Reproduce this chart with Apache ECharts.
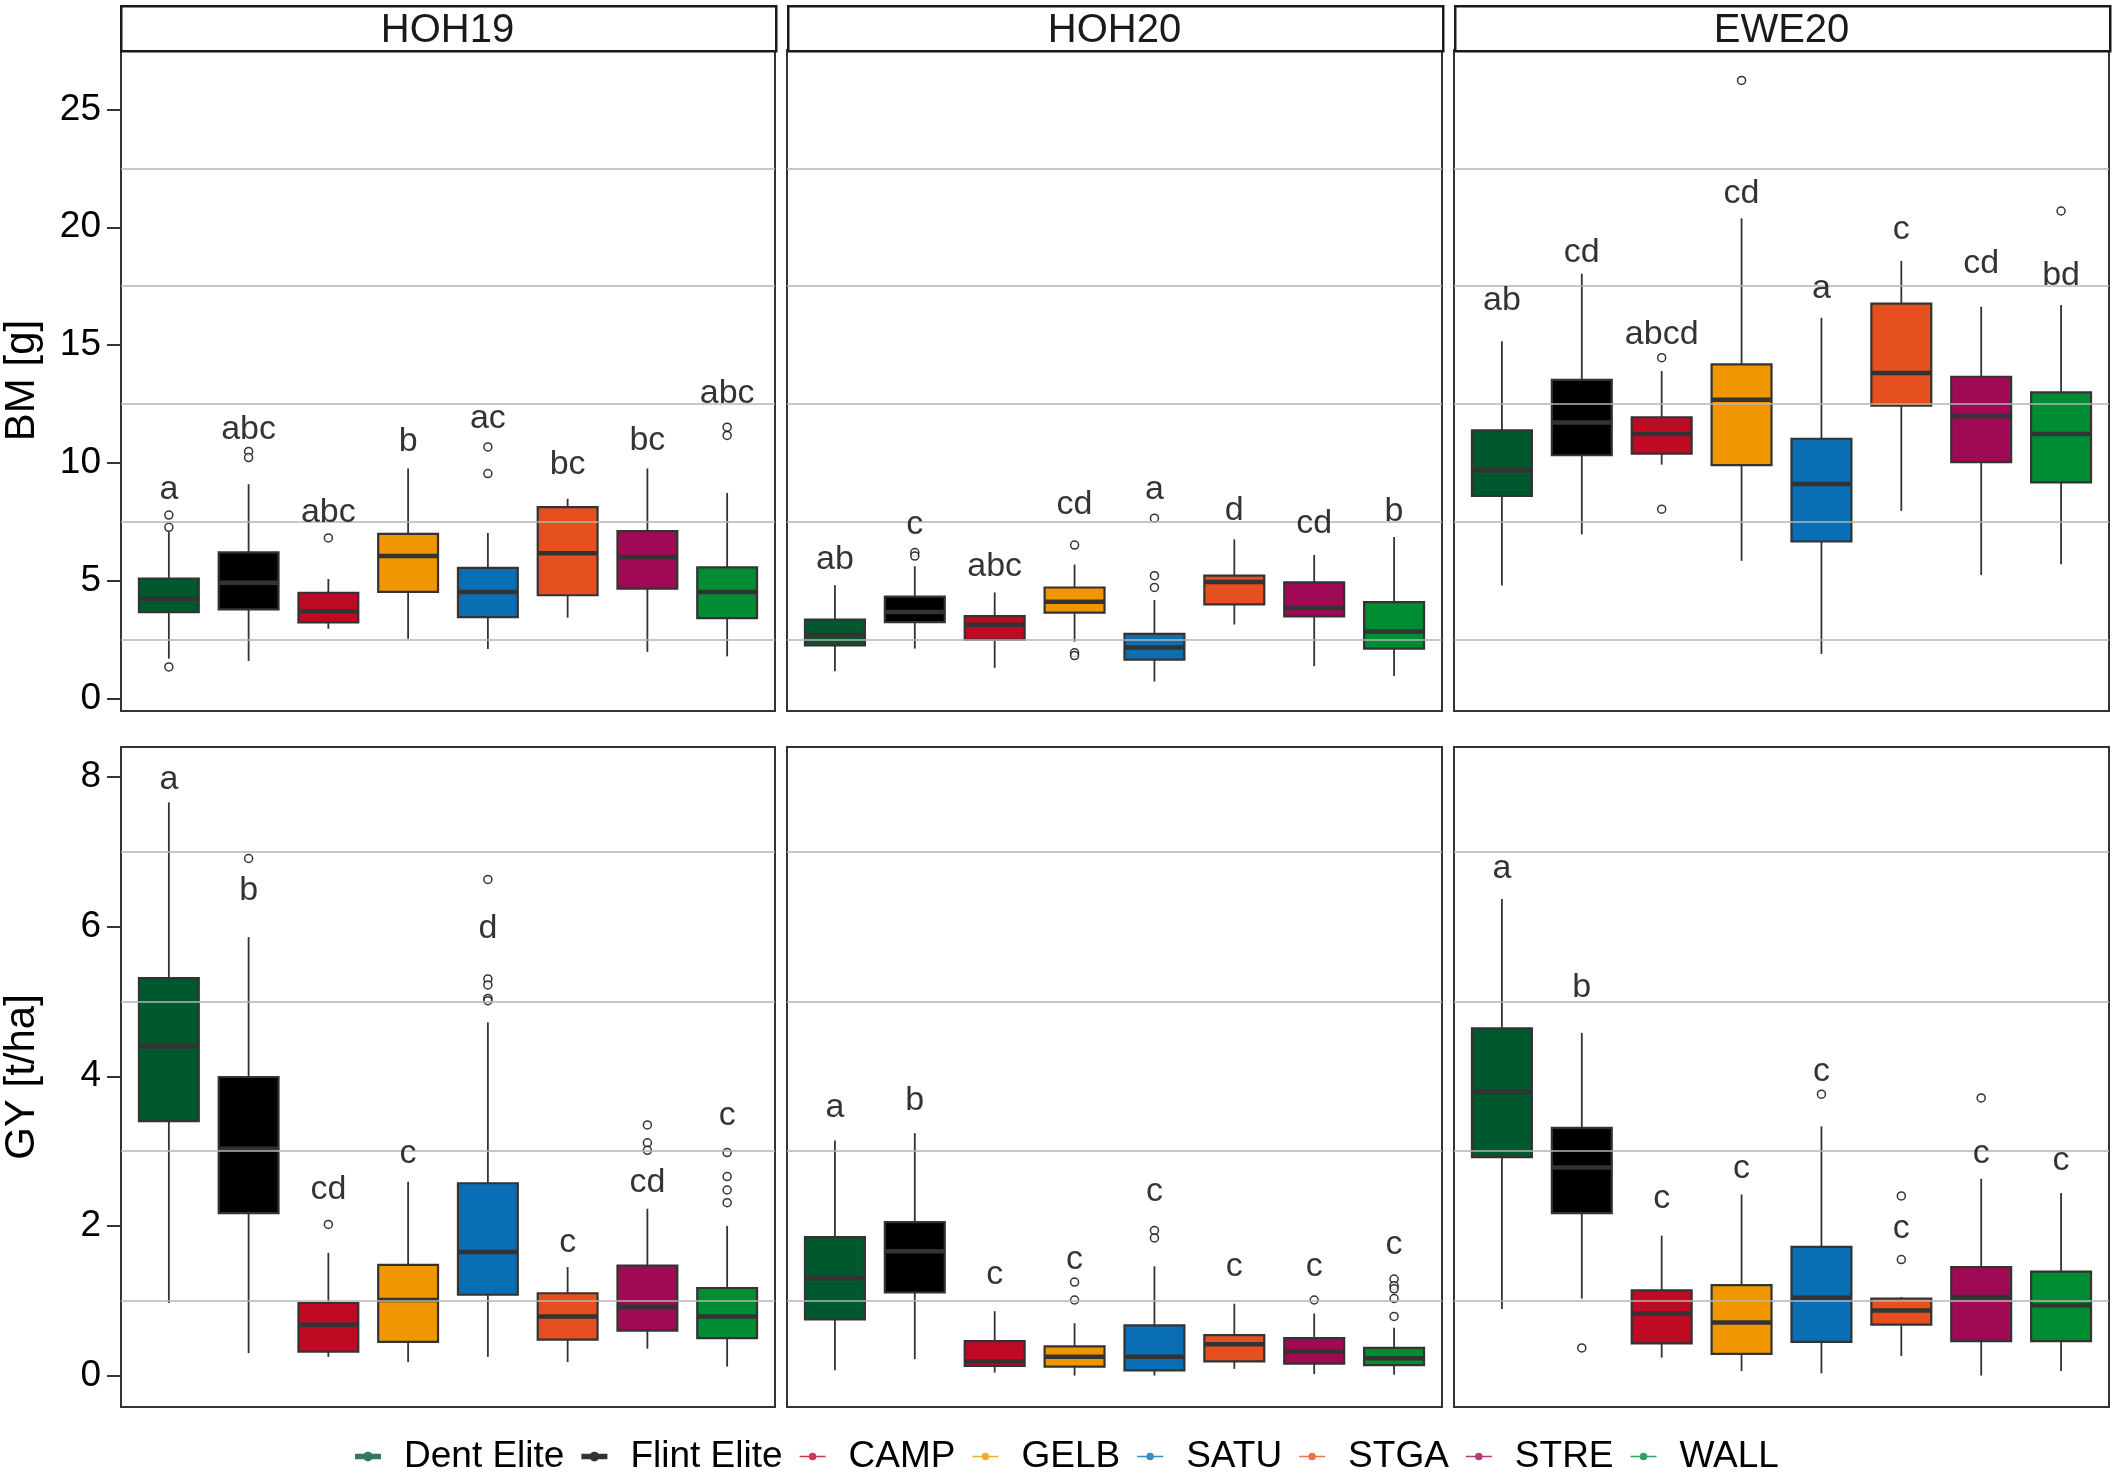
<!DOCTYPE html>
<html><head><meta charset="utf-8">
<script src="https://cdn.jsdelivr.net/npm/echarts@6/dist/echarts.min.js"></script>
<style>html,body{margin:0;padding:0;background:#fff}#c{width:2115px;height:1472px}</style>
</head><body><div id="c"></div><script>
// ---------- data ----------
const varieties = ['Dent Elite','Flint Elite','CAMP','GELB','SATU','STGA','STRE','WALL'];
const sites = ['HOH19','HOH20','EWE20'];
const bmTicks = [0,5,10,15,20,25];
const gyTicks = [0,2,4,6,8];
const bmGrid = [2.5,7.5,12.5,17.5,22.5];
const gyGrid = [1,3,5,7];

// box stats: [lower whisker, Q1, median, Q3, upper whisker]
const bmHOH19 = [[1.7,3.67,4.24,5.1,7.07],[1.6,3.79,4.92,6.21,9.1],[2.97,3.24,3.71,4.49,5.08],[2.54,4.53,6.05,6.99,9.77],[2.11,3.46,4.53,5.55,7.03],[3.44,4.39,6.17,8.13,8.48],[1.99,4.67,6.0,7.11,9.77],[1.8,3.42,4.53,5.57,8.73]];
const bmHOH19Out = [[0,7.79],[0,7.27],[0,1.35],[1,10.49],[1,10.23],[2,6.82],[4,10.68],[4,9.55],[7,11.52],[7,11.17]];
const bmHOH19Let = ['a','abc','abc','b','ac','bc','bc','abc'];
const bmHOH19LetY = [8.87,11.4,7.91,10.92,11.89,9.94,10.94,12.93];

const bmHOH20 = [[1.17,2.26,2.7,3.36,4.81],[2.13,3.25,3.68,4.33,5.62],[1.31,2.51,3.14,3.51,4.51],[2.42,3.65,4.11,4.72,5.69],[0.73,1.66,2.17,2.75,4.19],[3.15,4.0,4.95,5.22,6.76],[1.38,3.49,3.85,4.94,6.1],[0.96,2.13,2.85,4.1,6.86]];
const bmHOH20Out = [[1,6.2],[1,6.05],[3,6.52],[3,1.95],[3,1.83],[4,7.66],[4,5.22],[4,4.72]];
const bmHOH20Let = ['ab','c','abc','cd','a','d','cd','b'];
const bmHOH20LetY = [5.91,7.39,5.59,8.25,8.89,7.97,7.43,7.92];

const bmEWE20 = [[4.8,8.6,9.69,11.39,15.16],[6.97,10.33,11.72,13.53,18.03],[9.93,10.4,11.23,11.94,13.9],[5.85,9.91,12.68,14.18,20.38],[1.9,6.67,9.11,11.03,16.16],[7.97,12.43,13.82,16.76,18.57],[5.25,10.04,11.99,13.66,16.63],[5.7,9.18,11.23,13.0,16.7]];
const bmEWE20Out = [[2,14.47],[2,8.04],[3,26.23],[7,20.69]];
const bmEWE20Let = ['ab','cd','abcd','cd','a','c','cd','bd'];
const bmEWE20LetY = [16.9,18.93,15.43,21.43,17.39,19.89,18.44,17.93];

const gyHOH19 = [[0.97,3.4,4.4,5.31,7.66],[0.3,2.17,3.03,3.99,5.86],[0.25,0.32,0.68,0.97,1.64],[0.18,0.45,1.01,1.48,2.59],[0.25,1.08,1.65,2.57,4.72],[0.18,0.48,0.79,1.1,1.45],[0.36,0.6,0.92,1.47,2.23],[0.12,0.5,0.79,1.17,2.0]];
const gyHOH19Out = [[1,6.91],[2,2.02],[4,6.63],[4,5.3],[4,5.22],[4,5.04],[4,5.01],[6,3.35],[6,3.11],[6,3.01],[7,2.98],[7,2.66],[7,2.48],[7,2.31]];
const gyHOH19Let = ['a','b','cd','c','d','c','cd','c'];
const gyHOH19LetY = [7.96,6.48,2.48,2.96,5.97,1.78,2.58,3.47];

const gyHOH20 = [[0.07,0.75,1.3,1.85,3.14],[0.22,1.11,1.66,2.05,3.24],[0.04,0.13,0.19,0.46,0.86],[0.0,0.12,0.25,0.39,0.7],[0.0,0.07,0.25,0.67,1.46],[0.09,0.19,0.42,0.54,0.96],[0.02,0.16,0.32,0.5,0.83],[0.01,0.14,0.23,0.37,0.64]];
const gyHOH20Out = [[3,1.25],[3,1.01],[4,1.94],[4,1.84],[6,1.01],[7,1.29],[7,1.2],[7,1.16],[7,1.03],[7,0.79]];
const gyHOH20Let = ['a','b','c','c','c','c','c','c'];
const gyHOH20LetY = [3.58,3.68,1.35,1.55,2.46,1.45,1.45,1.75];

const gyEWE20 = [[0.89,2.92,3.79,4.64,6.37],[1.03,2.17,2.78,3.31,4.58],[0.24,0.43,0.83,1.14,1.87],[0.06,0.29,0.71,1.21,2.42],[0.03,0.45,1.04,1.72,3.33],[0.26,0.68,0.87,1.03,1.05],[0.0,0.46,1.05,1.45,2.63],[0.06,0.46,0.94,1.39,2.44]];
const gyEWE20Out = [[1,0.37],[4,3.76],[5,2.4],[5,1.55],[6,3.71]];
const gyEWE20Let = ['a','b','c','c','c','c','c','c'];
const gyEWE20LetY = [6.77,5.18,2.37,2.77,4.06,1.96,2.96,2.87];

// ---------- styling ----------
const colors = ['#00582E','#000000','#BE0A23','#F09600','#0A6EB4','#E5501E','#A00A55','#008C32'];
const FONT = '"Liberation Sans", Arial, Helvetica, sans-serif';
const colLeft = [120, 787, 1454];
const colWidth = 655;
const rowTop = [50, 747];
const rowHeight = [661, 660];
const rowRange = [[-0.52, 27.52], [-0.42, 8.4]];

const panels = [
  {row:0,col:0,box:bmHOH19,out:bmHOH19Out,lab:bmHOH19Let,labY:bmHOH19LetY},
  {row:0,col:1,box:bmHOH20,out:bmHOH20Out,lab:bmHOH20Let,labY:bmHOH20LetY},
  {row:0,col:2,box:bmEWE20,out:bmEWE20Out,lab:bmEWE20Let,labY:bmEWE20LetY},
  {row:1,col:0,box:gyHOH19,out:gyHOH19Out,lab:gyHOH19Let,labY:gyHOH19LetY},
  {row:1,col:1,box:gyHOH20,out:gyHOH20Out,lab:gyHOH20Let,labY:gyHOH20LetY},
  {row:1,col:2,box:gyEWE20,out:gyEWE20Out,lab:gyEWE20Let,labY:gyEWE20LetY}
];

const grid = [], xAxis = [], yAxis = [], series = [];
panels.forEach((p, i) => {
  grid.push({left: colLeft[p.col], top: rowTop[p.row], width: colWidth, height: rowHeight[p.row],
    show: true, borderColor: '#333333', borderWidth: 2, backgroundColor: '#ffffff', containLabel: false});
  // discrete positions 0..7 with ggplot-style 0.6 padding on each side
  xAxis.push({type: 'value', gridIndex: i, min: -0.6, max: varieties.length - 0.4, position: 'bottom',
    axisLine: {show: false, onZero: false}, axisTick: {show: false}, axisLabel: {show: false}, splitLine: {show: false}});
  const ticks = p.row === 0 ? bmTicks : gyTicks;
  const isLeft = p.col === 0;
  yAxis.push({type: 'value', gridIndex: i, min: rowRange[p.row][0], max: rowRange[p.row][1], position: 'left',
    axisLine: {show: false, onZero: false},
    axisTick: {show: isLeft, customValues: ticks, length: 14, lineStyle: {color: '#333333', width: 2}},
    axisLabel: {show: isLeft, customValues: ticks, margin: 20, fontSize: 37, color: '#000000', fontFamily: FONT},
    splitLine: {show: false},
    name: isLeft ? (p.row === 0 ? 'BM [g]' : 'GY [t/ha]') : '',
    nameLocation: 'middle', nameGap: 78, nameRotate: 90,
    nameTextStyle: {fontSize: 42, color: '#000000', fontFamily: FONT}
  });
  // gridlines
  series.push({type: 'line', xAxisIndex: i, yAxisIndex: i, data: [], z: 1, silent: true,
    markLine: {silent: true, symbol: ['none','none'], label: {show: false},
      lineStyle: {color: '#b5b5b5', width: 1.6, type: 'solid'},
      emphasis: {disabled: true},
      data: (p.row === 0 ? bmGrid : gyGrid).map(v => ({yAxis: v}))}});
  // boxes
  series.push({type: 'custom', xAxisIndex: i, yAxisIndex: i, z: 3,
    data: p.box.map((b, k) => [k, b[0], b[1], b[2], b[3], b[4]]),
    encode: {x: 0, y: [1,2,3,4,5]},
    renderItem: function (params, api) {
      const k = api.value(0);
      const lo = api.coord([k, api.value(1)]);
      const q1 = api.coord([k, api.value(2)]);
      const md = api.coord([k, api.value(3)]);
      const q3 = api.coord([k, api.value(4)]);
      const hi = api.coord([k, api.value(5)]);
      const bw = api.size([1, 0])[0] * 0.75;
      const cx = q1[0];
      return {type: 'group', children: [
        {type: 'line', shape: {x1: cx, y1: hi[1], x2: cx, y2: q3[1]}, style: {stroke: '#333333', lineWidth: 1.8}},
        {type: 'line', shape: {x1: cx, y1: q1[1], x2: cx, y2: lo[1]}, style: {stroke: '#333333', lineWidth: 1.8}},
        {type: 'rect', shape: {x: cx - bw/2, y: q3[1], width: bw, height: q1[1] - q3[1]},
          style: {fill: colors[k], stroke: '#333333', lineWidth: 2.2}},
        {type: 'line', shape: {x1: cx - bw/2, y1: md[1], x2: cx + bw/2, y2: md[1]}, style: {stroke: '#333333', lineWidth: 4.5}}
      ]};
    }});
  // outliers
  series.push({type: 'scatter', xAxisIndex: i, yAxisIndex: i, z: 4, data: p.out,
    symbol: 'circle', symbolSize: 8,
    itemStyle: {color: '#ffffff', borderColor: '#000000', borderWidth: 1.5}});
  // letters
  series.push({type: 'scatter', xAxisIndex: i, yAxisIndex: i, z: 5,
    data: p.lab.map((t, k) => [k, p.labY[k], t]),
    symbolSize: 1, itemStyle: {color: 'rgba(0,0,0,0)'},
    label: {show: true, position: 'inside', formatter: q => q.value[2], fontSize: 34, color: '#000000', fontFamily: FONT}});
});

// legend-only series
varieties.forEach((v, k) => {
  series.push({type: 'scatter', name: v, xAxisIndex: 0, yAxisIndex: 0, data: [], itemStyle: {color: colors[k]}});
});

const thinIcon = 'path://M0,4.2 L24,4.2 L24,5.8 L0,5.8 Z M12,1.5 A3.5,3.5 0 1,1 11.99,1.5 Z';
const thickIcon = 'path://M0,2.5 L24,2.5 L24,7.5 L0,7.5 Z M12,0.5 A4.5,4.5 0 1,1 11.99,0.5 Z';

const graphic = [];
sites.forEach((s, c) => {
  graphic.push({type: 'rect', left: colLeft[c], top: 5, shape: {x: 0, y: 0, width: colWidth, height: 45},
    style: {fill: '#ffffff', stroke: '#1a1a1a', lineWidth: 2.5}, z: 10});
  graphic.push({type: 'text', x: colLeft[c] + colWidth/2, y: 31, z: 11,
    style: {text: s, font: '40px ' + FONT, fill: '#1a1a1a', align: 'center', verticalAlign: 'middle', textAlign: 'center', textVerticalAlign: 'middle'}});
});

const chart = echarts.init(document.getElementById('c'), null, {renderer: 'canvas'});
chart.setOption({
  animation: false,
  backgroundColor: '#ffffff',
  textStyle: {fontFamily: FONT},
  grid, xAxis, yAxis, series, graphic,
  legend: {
    left: 350, top: 1433, itemGap: 17, itemWidth: 26, itemHeight: 12,
    selectedMode: false,
    textStyle: {fontSize: 37, color: '#000000', fontFamily: FONT, padding: [0,0,0,18]},
    data: varieties.map((v, k) => ({name: v, icon: k < 2 ? thickIcon : thinIcon}))
  }
});
</script></body></html>
